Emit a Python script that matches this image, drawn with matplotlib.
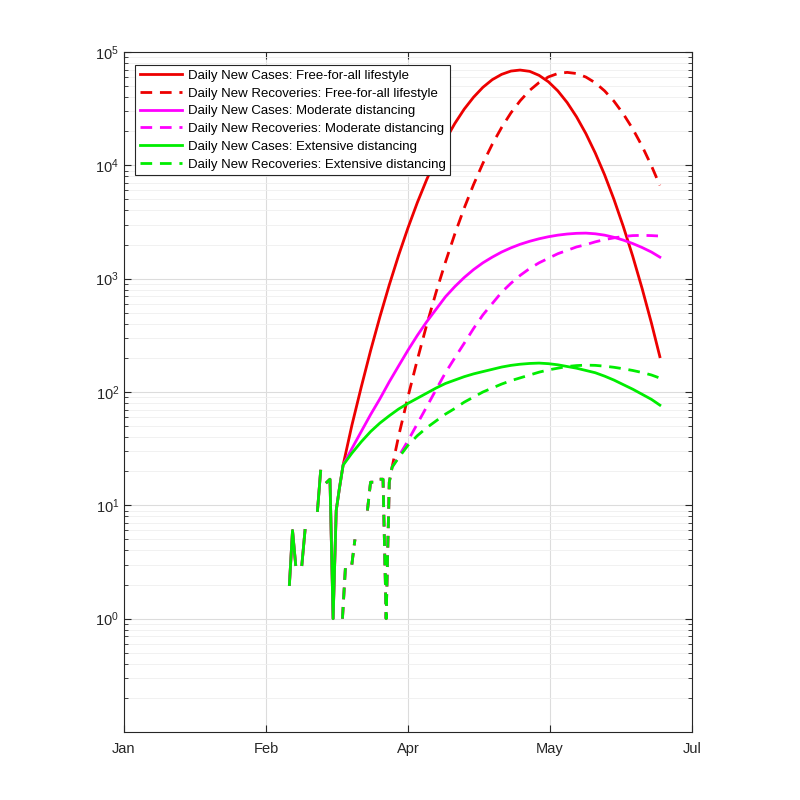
import matplotlib.pyplot as plt
import numpy as np

plt.rcParams['font.family'] = ['Liberation Sans', 'DejaVu Sans']
plt.rcParams['mathtext.default'] = 'regular'
plt.rcParams['font.size'] = 10

# days counted from Jan 1 (2020); observed data, zeros = no report
obs_days = [53, 54, 55, 56, 57, 58, 59, 60, 61, 62, 63, 64, 65, 66, 67, 68, 69]
obs_cases = [2, 6, 3, 0, 3, 6, 0, 0, 0, 9, 20, 0, 16, 17, 1, 9, 14]

obs_rec_days = [70, 71, 72, 73, 74, 75, 76, 77, 78, 79, 80, 81, 82, 83, 84, 85]
obs_rec = [1, 3, 0, 3, 5, 0, 0, 0, 9, 16, 16, 17, 17, 17, 1, 16]

# projections
case_days = [70.2, 73, 76, 79, 82, 85, 88, 91, 94, 97, 100, 103, 106, 109, 112, 115,
             118, 121, 124, 126.9, 130, 133, 136, 139, 142, 145, 148, 151, 154, 157,
             160, 163, 166, 169, 171.7]
free_cases = [22.6, 50.6, 110, 231, 461, 881, 1610, 2810, 4700, 7500, 11460, 16750,
              23400, 31300, 39900, 48800, 57000, 63500, 67900, 69300, 67500, 62200,
              54600, 45400, 35800, 26800, 19050, 12850, 8240, 5000, 2880, 1580, 822,
              406, 205]

free_rec_days = [85.9, 88, 91, 94, 97, 100, 103, 106, 109, 112, 115, 118, 121, 124,
                 127, 130, 133, 136, 139, 142, 145, 148, 151, 154, 157, 160, 163, 166,
                 169, 171.7]
free_rec = [21.7, 40.9, 91, 193, 392, 759, 1400, 2480, 4190, 6760, 10420, 15350, 21600,
            29100, 37300, 45900, 53800, 60300, 64600, 66100, 64600, 60100, 53500, 45400,
            36800, 28400, 21000, 14800, 9910, 6650]

mod_cases = [22.6, 31.6, 44.7, 63.1, 87.1, 123, 170, 234, 316, 417, 537, 692, 851, 1023,
             1202, 1380, 1549, 1718, 1871, 2009, 2138, 2249, 2344, 2421, 2477, 2512, 2523,
             2489, 2421, 2317, 2188, 2042, 1884, 1718, 1549]

mod_rec_days = [85.9, 88, 91, 94, 97, 100, 103, 106, 109, 112, 115, 118, 121, 124, 127,
                130, 133, 136, 139, 142, 145, 148, 151, 154, 157, 160, 163, 166, 169, 171.1]
mod_rec = [21.7, 26.9, 37.2, 52.5, 74.1, 105, 148, 200, 269, 363, 479, 603, 759, 912,
           1072, 1230, 1380, 1514, 1660, 1778, 1905, 1995, 2113, 2213, 2291, 2355, 2399,
           2410, 2399, 2382]

ext_cases = [22.6, 28.8, 36.3, 44.7, 53.2, 61.7, 70.8, 79.4, 88.1, 97.7, 108.4, 118.9,
             127.4, 136.5, 144.5, 151.4, 158.5, 166.0, 171.8, 175.8, 178.6, 179.9, 177.8,
             173.8, 167.9, 162.2, 154.9, 147.9, 138.0, 127.4, 116.1, 105.9, 95.5, 86.1, 76.6]

ext_rec = [21.7, 26.3, 33.9, 41.2, 48.4, 55.6, 63.8, 71.6, 81.3, 90.2, 100, 108.4, 117.5,
           125.9, 133.4, 141.3, 149.6, 156.7, 162.2, 167.9, 171.0, 172.6, 171.8, 169.0,
           165.2, 160.3, 154.9, 148.6, 141.3, 132.7]

tick_days = [0, 45.5, 91, 136.5, 182]
tick_labels = ['Jan', 'Feb', 'Apr', 'May', 'Jul']

scenarios = [
    ('Free-for-all lifestyle', case_days, free_cases, free_rec_days, free_rec, (0.93, 0, 0)),
    ('Moderate distancing', case_days, mod_cases, mod_rec_days, mod_rec, (1, 0, 1)),
    ('Extensive distancing', case_days, ext_cases, free_rec_days, ext_rec, (0, 0.93, 0)),
]

fig = plt.figure(figsize=(8, 8), dpi=100)
ax = fig.add_axes([0.155, 0.085, 0.71, 0.85])
ax.set_yscale('log', nonpositive='mask')

for name, cd, cv, rd, rv, col in scenarios:
    x1 = np.array(obs_days + cd, dtype=float)
    y1 = np.array(obs_cases + cv, dtype=float)
    y1[y1 <= 0] = np.nan
    ax.plot(x1, y1, '-', color=col, lw=2, label='Daily New Cases: ' + name)
    x2 = np.array(obs_rec_days + rd, dtype=float)
    y2 = np.array(obs_rec + rv, dtype=float)
    y2[y2 <= 0] = np.nan
    ax.plot(x2, y2, color=col, lw=2, linestyle=(0, (4.2, 2.8)),
            label='Daily New Recoveries: ' + name)

ax.set_xlim(0, 182)
ax.set_ylim(0.1, 1e5)
ax.set_xticks(tick_days)
ax.set_xticklabels(tick_labels)
ax.set_yticks([1, 10, 100, 1000, 1e4, 1e5])
ax.yaxis.set_minor_formatter(plt.NullFormatter())

ax.grid(True, which='major', color='#dcdcdc', lw=0.8)
ax.grid(True, which='minor', axis='y', color='#efefef', lw=0.6)
ax.set_axisbelow(True)
ax.tick_params(which='both', direction='in', top=True, right=True, colors='#262626',
               labelcolor='#262626', labelsize=10.5)
ax.tick_params(which='major', length=5)
ax.tick_params(which='minor', length=3)
ax.tick_params(axis='x', which='major', pad=7)
ax.tick_params(axis='x', which='minor', bottom=False, top=False)
for s in ax.spines.values():
    s.set_color('#262626')
    s.set_linewidth(0.8)

leg = ax.legend(loc='upper left', bbox_to_anchor=(0.0194, 0.981), fontsize=9.5,
                handlelength=3.2, handletextpad=0.45, labelspacing=0.42,
                borderpad=0.35, fancybox=False, framealpha=1, edgecolor='#262626',
                borderaxespad=0)
leg.get_frame().set_linewidth(0.8)

fig.savefig('out.png', dpi=100, facecolor='white')
